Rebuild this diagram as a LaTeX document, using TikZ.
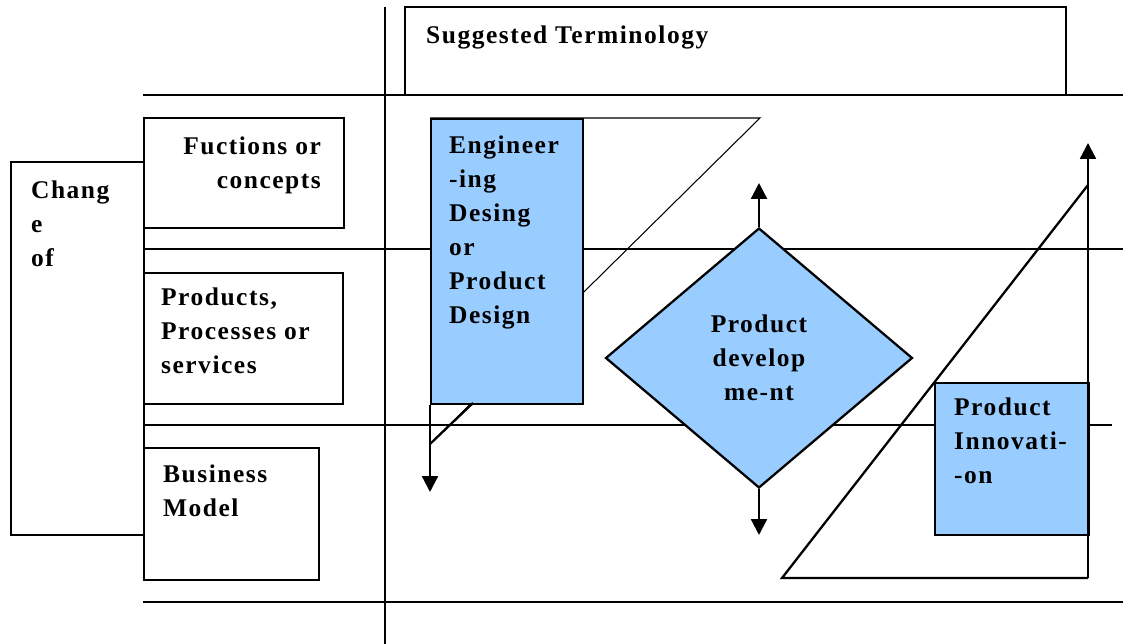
\documentclass[tikz,border=0pt]{standalone}
\usepackage{fontspec}
\setmainfont{Liberation Serif}[LetterSpace=6]
\usepackage{xcolor}
\usepackage{tikz}
\usetikzlibrary{arrows.meta}
\usetikzlibrary{shapes.geometric, calc}
\definecolor{boxblue}{RGB}{153,204,255}

\begin{document}
\begin{tikzpicture}[x=0.02cm, y=-0.02cm, line width=1.3pt,
    lbl/.style={inner sep=0pt, align=left, font=\fontsize{14.5}{19.3}\selectfont\bfseries},
    plainbox/.style={draw, inner sep=0pt, anchor=north west},
    bluebox/.style={draw, fill=boxblue, inner sep=0pt, anchor=north west},
    tip/.style={-{Triangle[width=9pt,length=9pt]}}]
                \useasboundingbox (0,0) rectangle (1123,644);
                % Rows and column
                \foreach \y in {95, 249, 602} {
                    \draw (143,\y) -- (1123,\y);
                }
                \draw (143,425) -- (1112,425);
                \draw (385,7) -- (385,644);
                \draw (405,95) |- (1066,7) -- (1066,95);
                \node[lbl, anchor=north west] (term) at (425,25) {Suggested Terminology};

                % Left side
                \node[plainbox, minimum width=2.66cm, minimum height=7.46cm] (change) at (10,161) {};
                \node[plainbox, minimum width=4cm, minimum height=2.2cm] (fuct) at (143,117) {};
                \node[plainbox, minimum width=3.98cm, minimum height=2.62cm] (prod) at (143,272) {};
                \node[plainbox, minimum width=3.5cm, minimum height=2.64cm] (busi) at (143,447) {};
                \node[lbl, anchor=north west] (changetxt) at (30,180) {Chang\\e\\of};
                \node[lbl, anchor=north east, align=right] (fucttxt) at (322,136) {Fuctions or\\concepts};
                \node[lbl, anchor=north west] (prodtxt) at (160,287) {Products,\\Processes or\\services};
                \node[lbl, anchor=north west] (busitxt) at (162,464) {Business\\Model};

                % Engineering design
                \draw[line width=0.6pt] (430,118) -- (760,118) -- (430,444);
                \node[bluebox, minimum width=3.04cm, minimum height=5.7cm] (eng) at (430,118) {};
                \draw (473,403) -- (430,444);
                \node[lbl, anchor=north west] (engtxt) at (448,135) {Engineer\\-ing\\Desing\\or\\Product\\Design};
                \coordinate (engend) at (430,492);
                \draw[tip] (eng.south west) -- (engend);

                % Product development
                \node[diamond, draw, fill=boxblue, minimum width=6.14cm, minimum height=5.2cm,
                    lbl, align=center] (dev) at (759,358) {Product\\develop\\me-nt};
                \coordinate (devup) at (759,183);
                \coordinate (devdown) at (759,535);
                \draw[tip] (dev.north) -- (devup);
                \draw[tip] (dev.south) -- (devdown);

                % Product innovation
                \coordinate (corner) at (1088,578);
                \coordinate (innovup) at (1088,143);
                \draw (1088,185) -- (782,578) -- (corner);
                \node[bluebox, minimum width=3.08cm, minimum height=3.04cm] (innov) at (934,382) {};
                \node[lbl, anchor=north west] (innovtxt) at (953,397) {Product\\Innovati-\\-on};
                \draw[tip] (corner) -- (innovup);
            \end{tikzpicture}
\end{document}
